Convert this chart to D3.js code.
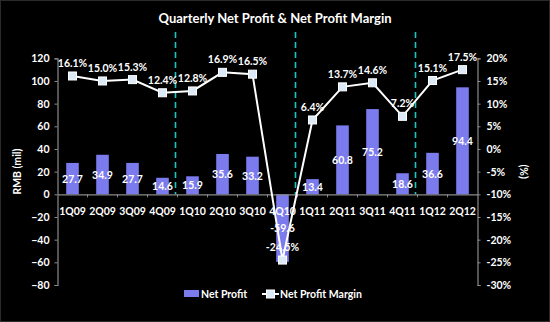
<!DOCTYPE html>
<html><head><meta charset="utf-8">
<script src="https://cdn.jsdelivr.net/npm/d3@7"></script>
<style>html,body{margin:0;padding:0;background:#000;}svg{display:block;}</style>
</head><body>
<script>
const categories = ["1Q09","2Q09","3Q09","4Q09","1Q10","2Q10","3Q10","4Q10","1Q11","2Q11","3Q11","4Q11","1Q12","2Q12"];
const netProfit = [27.7,34.9,27.7,14.6,15.9,35.6,33.2,-59.6,13.4,60.8,75.2,18.6,36.6,94.4];
const netMargin = [16.1,15.0,15.3,12.4,12.8,16.9,16.5,-24.5,6.4,13.7,14.6,7.2,15.1,17.5];
const leftTicks = [-80,-60,-40,-20,0,20,40,60,80,100,120];
const rightTicks = [-30,-25,-20,-15,-10,-5,0,5,10,15,20];
const dividerAfter = ["4Q09","4Q10","4Q11"];

const W=550,H=322;
const font="Lato, 'Open Sans', sans-serif";
const fs=10.5;
const svg=d3.select("body").append("svg").attr("width",W).attr("height",H);
svg.append("rect").attr("x",0.5).attr("y",0.5).attr("width",W-1).attr("height",H-1).attr("fill","#000").attr("stroke","#2a2a2a");

const pLeft=57.5,pRight=477.5,pTop=58.3,pBottom=285;
const x=d3.scaleBand().domain(categories).range([pLeft,pRight]).paddingInner(0.58).paddingOuter(0.29);
const yL=d3.scaleLinear().domain([-80,120]).range([pBottom,pTop]);
const yR=d3.scaleLinear().domain([-30,20]).range([pBottom,pTop]);
const step=x.step();
const txt=s=>s.attr("fill","#fff").attr("font-family",font).attr("font-weight","bold").attr("font-size",fs);

// title
svg.append("text").attr("x",275).attr("y",23).attr("text-anchor","middle").attr("fill","#fff")
  .attr("font-family",font).attr("font-weight","bold").attr("font-size",13).text("Quarterly Net Profit & Net Profit Margin");

// dividers
dividerAfter.forEach(c=>{
  const xx=x(c)+x.bandwidth()+(step-x.bandwidth())/2 - 2;
  svg.append("line").attr("x1",xx).attr("x2",xx).attr("y1",32).attr("y2",yL(0))
    .attr("stroke","#10c8c8").attr("stroke-width",1.6).attr("stroke-dasharray","6,4");
});

// bars
svg.append("g").selectAll("rect").data(netProfit).join("rect")
  .attr("x",(d,i)=>x(categories[i])).attr("width",x.bandwidth())
  .attr("y",d=>yL(Math.max(0,d))).attr("height",d=>Math.abs(yL(d)-yL(0)))
  .attr("fill","#7b7bee");

// left axis
const gl=svg.append("g").attr("transform",`translate(${pLeft},0)`)
  .call(d3.axisLeft(yL).tickValues(leftTicks).tickSize(3).tickPadding(5));
gl.select(".domain").attr("stroke","#8a8a8a").attr("stroke-width",1.2);
gl.selectAll(".tick line").attr("stroke","#8a8a8a");
txt(gl.selectAll("text"));

// right axis
const gr=svg.append("g").attr("transform",`translate(${pRight},0)`)
  .call(d3.axisRight(yR).tickValues(rightTicks).tickSize(3).tickPadding(6).tickFormat(d=>d+"%"));
gr.select(".domain").attr("stroke","#8a8a8a").attr("stroke-width",1.2);
gr.selectAll(".tick line").attr("stroke","#8a8a8a");
txt(gr.selectAll("text"));

// x axis at zero
const gx=svg.append("g").attr("transform",`translate(0,${yL(0)})`)
  .call(d3.axisBottom(x).tickSize(0).tickPadding(13));
gx.select(".domain").attr("stroke","#8a8a8a").attr("stroke-width",1.2);
txt(gx.selectAll("text"));
categories.forEach((c,i)=>{
  const xx=x(c)+x.bandwidth()+(step-x.bandwidth())/2;
  if(i<categories.length-1) svg.append("line").attr("x1",xx).attr("x2",xx).attr("y1",yL(0)).attr("y2",yL(0)+3).attr("stroke","#8a8a8a");
});

// bar labels
txt(svg.append("g").selectAll("text").data(netProfit).join("text")
  .attr("x",(d,i)=>x(categories[i])+x.bandwidth()/2).attr("y",d=>(yL(d)+yL(0))/2+4)
  .attr("text-anchor","middle"))
  .text(d=>d.toFixed(1));

// margin line
const cx=(i)=>x(categories[i])+x.bandwidth()/2;
svg.append("path").datum(netMargin).attr("fill","none").attr("stroke","#fff").attr("stroke-width",2)
  .attr("d",d3.line().x((d,i)=>cx(i)).y(d=>yR(d)));
svg.append("g").selectAll("rect").data(netMargin).join("rect")
  .attr("x",(d,i)=>cx(i)-4).attr("y",d=>yR(d)-4).attr("width",8).attr("height",8)
  .attr("fill","#dce9f7").attr("stroke","#fff").attr("stroke-width",1);
txt(svg.append("g").selectAll("text").data(netMargin).join("text")
  .attr("x",(d,i)=>cx(i)).attr("y",d=>yR(d)-9)
  .attr("text-anchor","middle"))
  .text(d=>d.toFixed(1)+"%");

// axis titles
txt(svg.append("text").attr("transform",`translate(21,${(pTop+pBottom)/2}) rotate(-90)`).attr("text-anchor","middle")).text("RMB (mil)");
txt(svg.append("text").attr("transform",`translate(520,${(pTop+pBottom)/2}) rotate(90)`).attr("text-anchor","middle")).text("(%)");

// legend
const lg=svg.append("g");
lg.append("rect").attr("x",184).attr("y",290).attr("width",15).attr("height",7).attr("fill","#7b7bee");
txt(lg.append("text").attr("x",201).attr("y",298)).text("Net Profit");
lg.append("line").attr("x1",262).attr("x2",279).attr("y1",294).attr("y2",294).attr("stroke","#fff").attr("stroke-width",2);
lg.append("rect").attr("x",266.5).attr("y",290).attr("width",8).attr("height",8).attr("fill","#dce9f7").attr("stroke","#fff");
txt(lg.append("text").attr("x",280).attr("y",298)).text("Net Profit Margin");
</script>
</body></html>
